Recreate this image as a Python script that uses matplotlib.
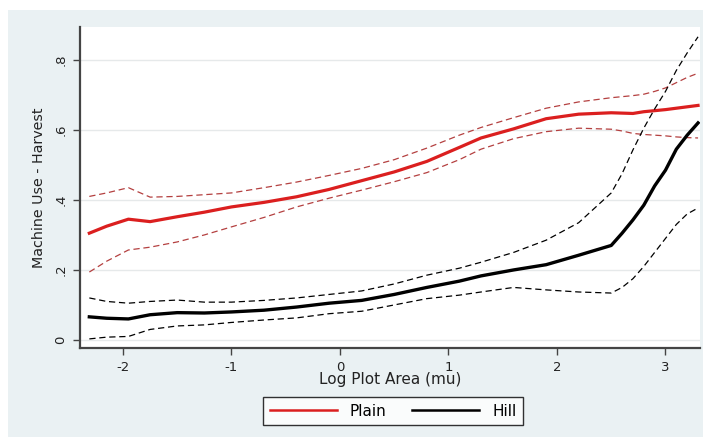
import matplotlib
matplotlib.use("Agg")
import matplotlib.pyplot as plt
from matplotlib.patches import Rectangle
from matplotlib.lines import Line2D

x = [-2.31, -2.15, -1.95, -1.75, -1.5, -1.25, -1.0, -0.7, -0.4, -0.1, 0.2, 0.5, 0.8,
     1.1, 1.3, 1.6, 1.9, 2.2, 2.5, 2.6, 2.7, 2.8, 2.9, 3.0, 3.1, 3.2, 3.3]

plain_mean = [0.305, 0.325, 0.345, 0.338, 0.352, 0.365, 0.38, 0.393, 0.409, 0.43, 0.455, 0.48, 0.51,
              0.55, 0.577, 0.603, 0.632, 0.645, 0.649, 0.648, 0.647, 0.652, 0.655, 0.658, 0.662, 0.666, 0.67]
plain_upper = [0.41, 0.42, 0.435, 0.408, 0.41, 0.415, 0.42, 0.435, 0.451, 0.47, 0.49, 0.515, 0.548,
               0.585, 0.607, 0.635, 0.662, 0.68, 0.692, 0.695, 0.698, 0.702, 0.71, 0.72, 0.735, 0.75, 0.762]
plain_lower = [0.194, 0.225, 0.257, 0.265, 0.28, 0.30, 0.323, 0.35, 0.38, 0.405, 0.428, 0.452, 0.478,
               0.515, 0.545, 0.575, 0.595, 0.605, 0.602, 0.597, 0.59, 0.587, 0.585, 0.583, 0.58, 0.578, 0.577]

hill_mean = [0.066, 0.062, 0.06, 0.072, 0.078, 0.077, 0.08, 0.085, 0.094, 0.105, 0.113, 0.13, 0.15,
             0.168, 0.183, 0.2, 0.215, 0.242, 0.27, 0.305, 0.343, 0.385, 0.44, 0.485, 0.545, 0.585, 0.62]
hill_upper = [0.12, 0.11, 0.105, 0.11, 0.114, 0.108, 0.108, 0.113, 0.12, 0.13, 0.14, 0.16, 0.185,
              0.205, 0.222, 0.25, 0.285, 0.335, 0.42, 0.475, 0.543, 0.605, 0.66, 0.71, 0.77, 0.82, 0.866]
hill_lower = [0.003, 0.008, 0.01, 0.03, 0.04, 0.043, 0.05, 0.057, 0.063, 0.075, 0.082, 0.1, 0.118,
              0.128, 0.137, 0.15, 0.143, 0.137, 0.134, 0.15, 0.175, 0.21, 0.25, 0.29, 0.33, 0.36, 0.377]

xticks = [-2, -1, 0, 1, 2, 3]
xtick_labels = ["-2", "-1", "0", "1", "2", "3"]
yticks = [0, 0.2, 0.4, 0.6, 0.8]
ytick_labels = ["0", ".2", ".4", ".6", ".8"]
series_labels = ["Plain", "Hill"]

RED = "#db1f1f"
RED_CI = "#b44040"
BG = "#eaf1f3"
TXT = "#222222"
FS_TICK = 9.5
FS_LAB = 11.0

fig = plt.figure(figsize=(7.03, 4.40), dpi=100, facecolor="white")
fig.patches.append(Rectangle((8 / 703, 3 / 440), 1 - 8 / 703, 1 - 13 / 440,
                             transform=fig.transFigure, facecolor=BG, edgecolor="none", zorder=-10))

ax = fig.add_axes([80 / 703, 1 - 348 / 440, 620 / 703, 321 / 440])
ax.set_facecolor("white")

ax.plot(x, plain_upper, color=RED_CI, lw=0.9, ls=(0, (5, 3)))
ax.plot(x, plain_lower, color=RED_CI, lw=0.9, ls=(0, (5, 3)))
ax.plot(x, plain_mean, color=RED, lw=2.3)
ax.plot(x, hill_upper, color="black", lw=0.9, ls=(0, (5, 3)))
ax.plot(x, hill_lower, color="black", lw=0.9, ls=(0, (5, 3)))
ax.plot(x, hill_mean, color="black", lw=2.4)

ax.set_xlim(-2.396, 3.318)
ax.set_ylim(-0.023, 0.894)
ax.set_xticks(xticks)
ax.set_xticklabels(xtick_labels)
ax.set_yticks(yticks)
ax.set_yticklabels(ytick_labels, rotation=90, va="center")
ax.grid(axis="y", color="#e6e9ea", lw=1.0)
ax.set_axisbelow(True)

for s in ["top", "right"]:
    ax.spines[s].set_visible(False)
for s in ["left", "bottom"]:
    ax.spines[s].set_color("#444444")
    ax.spines[s].set_linewidth(1.6)
ax.tick_params(axis="both", direction="out", length=5, width=1, color="#444444",
               labelsize=FS_TICK, labelcolor=TXT, pad=4)

ax.set_xlabel("Log Plot Area (mu)", fontsize=FS_LAB, color=TXT, labelpad=-1)
ax.set_ylabel("Machine Use - Harvest", fontsize=10.3, color=TXT, labelpad=6)

handles = [Line2D([], [], color=RED, lw=1.8), Line2D([], [], color="black", lw=1.8)]
fs_px = FS_LAB * 100 / 72
leg = fig.legend(handles, series_labels, loc="center",
                 bbox_to_anchor=(393 / 703, 1 - 411 / 440),
                 ncol=2, handlelength=67 / fs_px, fontsize=FS_LAB,
                 frameon=True, fancybox=False, borderaxespad=0, borderpad=0.42,
                 handletextpad=13 / fs_px, columnspacing=26 / fs_px)
leg.get_frame().set_edgecolor("black")
leg.get_frame().set_linewidth(1.0)
leg.get_frame().set_facecolor("white")

fig.savefig("out.png", dpi=100, facecolor=fig.get_facecolor())
